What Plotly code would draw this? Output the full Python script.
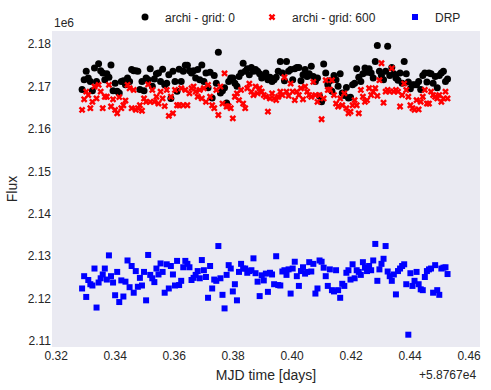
import plotly.graph_objects as go

# values as shown on the axes (matplotlib-style offsets: x + 5.8767e4, y * 1e6)
x_offset_text = "+5.8767e4"
y_scale_text = "1e6"

mjd = [
    0.3288, 0.3295, 0.3302, 0.3309, 0.3316, 0.3323, 0.3330, 0.3337, 0.3344, 0.3351,
    0.3358, 0.3365, 0.3372, 0.3379, 0.3386, 0.3393, 0.3400, 0.3407, 0.3414, 0.3421,
    0.3428, 0.3435, 0.3442, 0.3449, 0.3456, 0.3463, 0.3470, 0.3477, 0.3484, 0.3491,
    0.3498, 0.3505, 0.3512, 0.3519, 0.3526, 0.3533, 0.3540, 0.3547, 0.3554, 0.3561,
    0.3568, 0.3575, 0.3582, 0.3589, 0.3596, 0.3603, 0.3610, 0.3617, 0.3624, 0.3631,
    0.3638, 0.3645, 0.3652, 0.3659, 0.3666, 0.3673, 0.3680, 0.3687, 0.3694, 0.3701,
    0.3708, 0.3715, 0.3722, 0.3729, 0.3736, 0.3743, 0.3750, 0.3757, 0.3764, 0.3771,
    0.3778, 0.3785, 0.3792, 0.3799, 0.3806, 0.3813, 0.3820, 0.3827, 0.3834, 0.3841,
    0.3848, 0.3855, 0.3862, 0.3869, 0.3876, 0.3883, 0.3890, 0.3897, 0.3904, 0.3911,
    0.3918, 0.3925, 0.3932, 0.3939, 0.3946, 0.3953, 0.3960, 0.3967, 0.3974, 0.3981,
    0.3988, 0.3995, 0.4002, 0.4009, 0.4016, 0.4023, 0.4030, 0.4037, 0.4044, 0.4051,
    0.4058, 0.4065, 0.4072, 0.4079, 0.4086, 0.4093, 0.4100, 0.4107, 0.4114, 0.4121,
    0.4128, 0.4135, 0.4142, 0.4149, 0.4156, 0.4163, 0.4170, 0.4177, 0.4184, 0.4191,
    0.4198, 0.4205, 0.4212, 0.4219, 0.4226, 0.4233, 0.4240, 0.4247, 0.4254, 0.4261,
    0.4268, 0.4275, 0.4282, 0.4289, 0.4296, 0.4303, 0.4310, 0.4317, 0.4324, 0.4331,
    0.4338, 0.4345, 0.4352, 0.4359, 0.4366, 0.4373, 0.4380, 0.4387, 0.4394, 0.4401,
    0.4408, 0.4415, 0.4422, 0.4429, 0.4436, 0.4443, 0.4450, 0.4457, 0.4464, 0.4471,
    0.4478, 0.4485, 0.4492, 0.4499, 0.4506, 0.4513, 0.4520, 0.4527,
]

# archi - grid: 0  (black dots)
flux_grid0 = [
    2.1693, 2.1716, 2.1736, 2.1720, 2.1712, 2.1690, 2.1744, 2.1712, 2.1754, 2.1737,
    2.1732, 2.1716, 2.1730, 2.1722, 2.1751, 2.1690, 2.1708, 2.1689, 2.1685, 2.1712,
    2.1714, 2.1704, 2.1720, 2.1712, 2.1740, 2.1737, 2.1737, 2.1736, 2.1693, 2.1712,
    2.1690, 2.1720, 2.1716, 2.1742, 2.1701, 2.1718, 2.1730, 2.1732, 2.1712, 2.1741,
    2.1704, 2.1708, 2.1728, 2.1672, 2.1736, 2.1712, 2.1689, 2.1741, 2.1712, 2.1736,
    2.1750, 2.1750, 2.1737, 2.1732, 2.1737, 2.1720, 2.1740, 2.1716, 2.1751, 2.1712,
    2.1732, 2.1697, 2.1734, 2.1673, 2.1726, 2.1708, 2.1781, 2.1685, 2.1690, 2.1697,
    2.1661, 2.1712, 2.1720, 2.1720, 2.1708, 2.1701, 2.1724, 2.1732, 2.1755, 2.1736,
    2.1742, 2.1728, 2.1745, 2.1736, 2.1740, 2.1736, 2.1730, 2.1720, 2.1724,
    2.1732, 2.1716, 2.1722, 2.1712, 2.1716, 2.1722, 2.1736, 2.1759, 2.1732, 2.1714,
    2.1759, 2.1736, 2.1740, 2.1716, 2.1742, 2.1745, 2.1745, 2.1714, 2.1728, 2.1740,
    2.1724, 2.1730, 2.1748, 2.1724, 2.1712, 2.1720, 2.1677, 2.1664, 2.1753, 2.1732,
    2.1704, 2.1714, 2.1689, 2.1726, 2.1716, 2.1701, 2.1730, 2.1685, 2.1679, 2.1698,
    2.1673, 2.1675, 2.1704, 2.1708, 2.1742, 2.1722, 2.1712, 2.1730, 2.1744, 2.1734,
    2.1742, 2.1732, 2.1720, 2.1759, 2.1797, 2.1736, 2.1726, 2.1716, 2.1736, 2.1795,
    2.1726, 2.1745, 2.1730, 2.1720, 2.1715, 2.1732, 2.1708, 2.1759, 2.1730, 2.1711,
    2.1695, 2.1704, 2.1704, 2.1704, 2.1712, 2.1693, 2.1726, 2.1732, 2.1711, 2.1732,
    2.1730, 2.1708, 2.1724, 2.1697, 2.1726, 2.1732, 2.1736, 2.1712, 2.1718,
]

# archi - grid: 600  (red crosses)
flux_grid600 = [
    2.1645, 2.1670, 2.1688, 2.1680, 2.1649, 2.1664, 2.1700, 2.1672, 2.1704, 2.1688,
    2.1649, 2.1676, 2.1676, 2.1704, 2.1653, 2.1670, 2.1645, 2.1637, 2.1675, 2.1649,
    2.1656, 2.1667, 2.1704, 2.1696, 2.1649, 2.1692, 2.1645, 2.1649, 2.1656, 2.1643,
    2.1672, 2.1664, 2.1705, 2.1664, 2.1692, 2.1664, 2.1676, 2.1660, 2.1688, 2.1672,
    2.1654, 2.1692, 2.1631, 2.1676, 2.1637, 2.1692, 2.1656, 2.1656, 2.1696, 2.1656,
    2.1692, 2.1656, 2.1684, 2.1696, 2.1700, 2.1688, 2.1676, 2.1692, 2.1672, 2.1696,
    2.1664, 2.1704, 2.1676, 2.1656, 2.1649, 2.1692, 2.1633, 2.1700, 2.1660, 2.1731,
    2.1653, 2.1654, 2.1649, 2.1625, 2.1676, 2.1684, 2.1668, 2.1692, 2.1660, 2.1649,
    2.1696, 2.1707, 2.1688, 2.1680, 2.1700, 2.1684, 2.1696, 2.1688, 2.1680, 2.1676,
    2.1641, 2.1672, 2.1684, 2.1672, 2.1668, 2.1676, 2.1688, 2.1680, 2.1722, 2.1688,
    2.1678, 2.1707, 2.1688, 2.1668, 2.1688, 2.1680, 2.1696, 2.1670, 2.1700, 2.1688,
    2.1680, 2.1676, 2.1711, 2.1680, 2.1664, 2.1680, 2.1623, 2.1672, 2.1715, 2.1692,
    2.1693, 2.1715, 2.1680, 2.1660, 2.1653, 2.1672, 2.1656, 2.1684, 2.1649, 2.1637,
    2.1641, 2.1656, 2.1668, 2.1656, 2.1637, 2.1692, 2.1676, 2.1664, 2.1668, 2.1696,
    2.1680, 2.1688, 2.1696, 2.1678, 2.1715, 2.1755, 2.1662, 2.1688, 2.1692, 2.1688,
    2.1743, 2.1688, 2.1692, 2.1688, 2.1653, 2.1680, 2.1707, 2.1692, 2.1676, 2.1656,
    2.1649, 2.1645, 2.1668, 2.1646, 2.1664, 2.1676, 2.1692, 2.1660, 2.1660, 2.1688,
    2.1680, 2.1676, 2.1672, 2.1680, 2.1664, 2.1672, 2.1688, 2.1672,
]

# DRP  (blue squares)
flux_drp = [
    2.1224, 2.1253, 2.1204, 2.1244, 2.1234, 2.1231, 2.1271, 2.1179, 2.1238, 2.1248,
    2.1257, 2.1271, 2.1245, 2.1302, 2.1253, 2.1238, 2.1208, 2.1263, 2.1192, 2.1243,
    2.1205, 2.1240, 2.1290, 2.1227, 2.1277, 2.1214, 2.1265, 2.1228, 2.1249, 2.1231,
    2.1263, 2.1196, 2.1303, 2.1256, 2.1248, 2.1239, 2.1271, 2.1257, 2.1283, 2.1263,
    2.1214, 2.1281, 2.1224, 2.1277, 2.1257, 2.1231, 2.1289, 2.1232, 2.1242, 2.1274,
    2.1289, 2.1282, 2.1274, 2.1244, 2.1249, 2.1256, 2.1265, 2.1248, 2.1291, 2.1267,
    2.1251, 2.1202, 2.1277, 2.1224, 2.1245, 2.1242, 2.1324, 2.1248, 2.1209, 2.1177,
    2.1256, 2.1279, 2.1271, 2.1217, 2.1234, 2.1196, 2.1263, 2.1282, 2.1271, 2.1271,
    2.1261, 2.1265, 2.1267, 2.1295, 2.1260, 2.1240, 2.1206, 2.1255,
    2.1243, 2.1259, 2.1216, 2.1261, 2.1257, 2.1234, 2.1300, 2.1232,
    2.1231, 2.1264, 2.1267, 2.1256, 2.1269, 2.1212, 2.1271, 2.1287, 2.1253, 2.1230,
    2.1265, 2.1274, 2.1259, 2.1263, 2.1286, 2.1264, 2.1282, 2.1212, 2.1224, 2.1290,
    2.1287, 2.1273, 2.1253, 2.1230, 2.1269, 2.1220, 2.1217, 2.1267, 2.1220, 2.1202,
    2.1235, 2.1230, 2.1261, 2.1267, 2.1245, 2.1281, 2.1248, 2.1267, 2.1263, 2.1256,
    2.1286, 2.1273, 2.1265, 2.1277, 2.1267, 2.1290, 2.1329, 2.1242, 2.1269, 2.1282,
    2.1294, 2.1324, 2.1264, 2.1253, 2.1242, 2.1257, 2.1210, 2.1265, 2.1271, 2.1277,
    2.1281, 2.1234, 2.1115, 2.1260, 2.1230, 2.1242, 2.1263, 2.1234, 2.1222, 2.1220,
    2.1251, 2.1265, 2.1269, 2.1271, 2.1214, 2.1279, 2.1220, 2.1209, 2.1271, 2.1273,
    2.1274, 2.1258,
]

n = min(len(mjd), len(flux_grid0), len(flux_grid600), len(flux_drp))
print(len(mjd), len(flux_grid0), len(flux_grid600), len(flux_drp))

x_ticks = [0.32, 0.34, 0.36, 0.38, 0.40, 0.42, 0.44, 0.46]
y_ticks = [2.11, 2.12, 2.13, 2.14, 2.15, 2.16, 2.17, 2.18]

fig = go.Figure()
fig.add_trace(go.Scatter(x=mjd[:n], y=flux_grid0[:n], mode="markers", name="archi - grid: 0",
                         marker=dict(color="black", size=7, symbol="circle"), legend="legend"))
fig.add_trace(go.Scatter(x=mjd[:n], y=flux_grid600[:n], mode="markers", name="archi - grid: 600",
                         marker=dict(color="red", size=6, symbol="x", line=dict(width=0)),
                         legend="legend2"))
fig.add_trace(go.Scatter(x=mjd[:n], y=flux_drp[:n], mode="markers", name="DRP",
                         marker=dict(color="blue", size=6, symbol="square"), legend="legend3"))

# one legend box per entry so the entries sit where matplotlib put them
leg = dict(orientation="h", y=1.044, xanchor="left", yanchor="middle",
           bgcolor="rgba(0,0,0,0)", font=dict(size=12))

fig.update_layout(
    width=491, height=390,
    margin=dict(l=52, r=11, t=31, b=43, autoexpand=False),
    showlegend=True,
    plot_bgcolor="#EAEAF2", paper_bgcolor="white",
    font=dict(family="Liberation Sans, Arial, sans-serif", size=12, color="#262626"),
    legend=dict(leg, x=0.1706),
    legend2=dict(leg, x=0.4673),
    legend3=dict(leg, x=0.8014),
    xaxis=dict(range=[0.3186, 0.4637], tickvals=x_ticks, tickformat=".2f",
               showgrid=False, zeroline=False, showline=False, ticks="", automargin=False,
               title=dict(text="MJD time [days]", standoff=8)),
    yaxis=dict(range=[2.1086, 2.1831], tickvals=y_ticks, tickformat=".2f",
               showgrid=False, zeroline=False, showline=False, ticks="", automargin=False,
               title=dict(text="Flux", standoff=6)),
    annotations=[
        dict(text=y_scale_text, xref="paper", yref="paper", x=0, y=1.025,
             xanchor="left", yanchor="middle", showarrow=False),
        dict(text=x_offset_text, xref="paper", yref="paper", x=0.995, y=-0.089,
             xanchor="right", yanchor="middle", showarrow=False),
    ],
)

# the page's default 8px body margin would shift the whole figure
fig.write_html("out.html", config={"displayModeBar": False},
               post_script="document.body.style.margin='0';")
